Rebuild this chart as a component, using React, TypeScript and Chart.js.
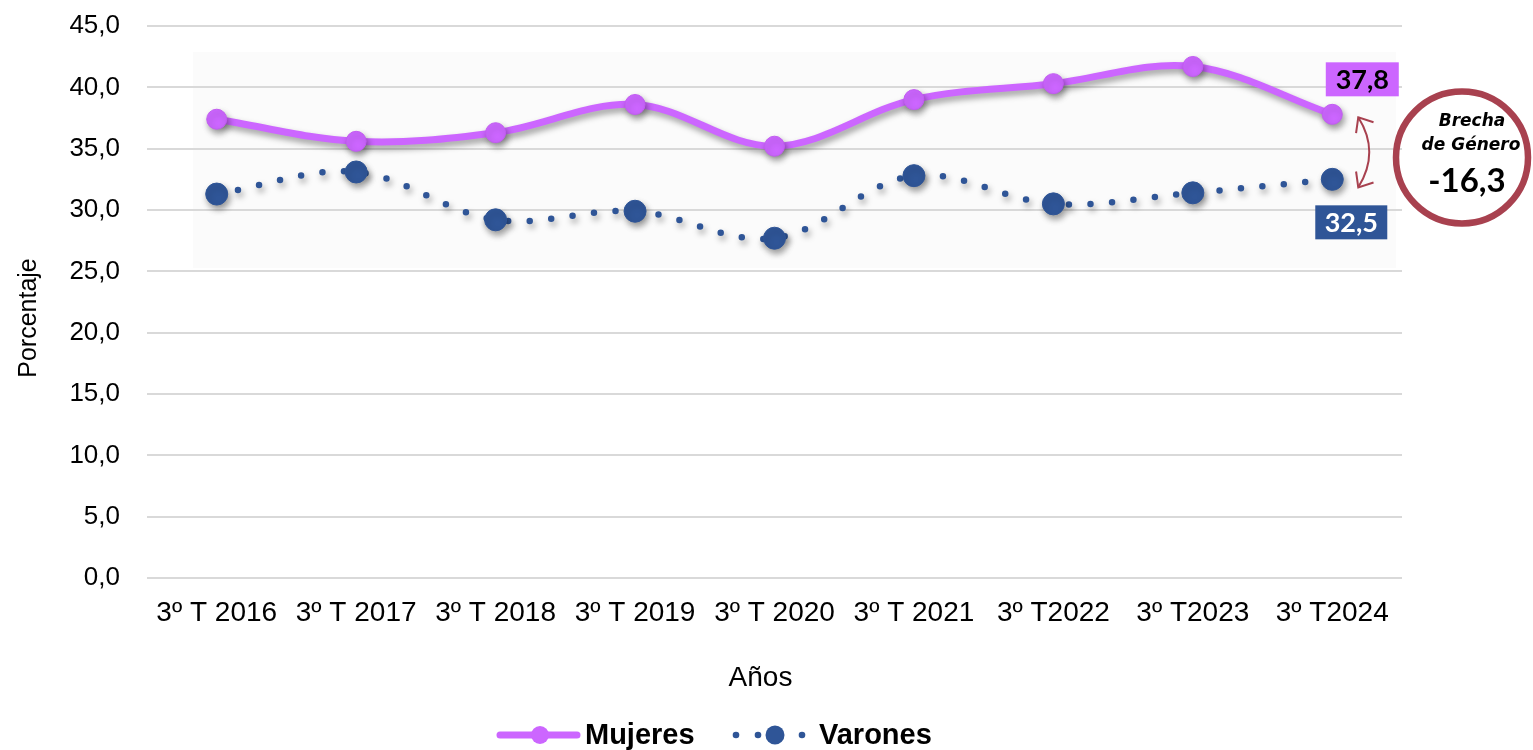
import React, { useEffect, useRef } from "react";
import { Chart, registerables } from "chart.js";

Chart.register(...registerables);

const categories = [
  "3º T 2016",
  "3º T 2017",
  "3º T 2018",
  "3º T 2019",
  "3º T 2020",
  "3º T 2021",
  "3º T2022",
  "3º T2023",
  "3º T2024",
];
const mujeres = [37.4, 35.6, 36.3, 38.6, 35.2, 39.0, 40.3, 41.7, 37.8];
const varones = [31.3, 33.1, 29.2, 29.9, 27.7, 32.8, 30.5, 31.4, 32.5];
const seriesNames = ["Mujeres", "Varones"];
const yTickValues = [0, 5, 10, 15, 20, 25, 30, 35, 40, 45];
const yTickLabels = ["0,0", "5,0", "10,0", "15,0", "20,0", "25,0", "30,0", "35,0", "40,0", "45,0"];
const xAxisTitle = "Años";
const yAxisTitle = "Porcentaje";
const brechaTitle = ["Brecha", "de Género"];
const brechaValue = -16.3;

const PURPLE = "#CC66FF";
const BLUE = "#2F5597";
const MAROON = "#A8414F";
const ARIAL = '"Liberation Sans", Arial, sans-serif';

const fmt = (v: number) => v.toFixed(1).replace(".", ",");

function arrowHead(ctx: CanvasRenderingContext2D, tx: number, ty: number, fx: number, fy: number, len: number) {
  const ang = Math.atan2(ty - fy, tx - fx);
  const a = 0.7;
  ctx.beginPath();
  ctx.moveTo(tx - len * Math.cos(ang - a), ty - len * Math.sin(ang - a));
  ctx.lineTo(tx, ty);
  ctx.lineTo(tx - len * Math.cos(ang + a), ty - len * Math.sin(ang + a));
  ctx.stroke();
}

const decorPlugin = {
  id: "decor",
  beforeDraw(chart: any) {
    const { ctx, chartArea } = chart;
    ctx.save();
    ctx.fillStyle = "#FBFBFB";
    ctx.fillRect(193, 52, chartArea.right - 193 - 6, 216);
    ctx.restore();
  },
  beforeDatasetDraw(chart: any) {
    const ctx = chart.ctx;
    ctx.save();
    ctx.shadowColor = "rgba(0,0,0,0.38)";
    ctx.shadowBlur = 6;
    ctx.shadowOffsetX = 2;
    ctx.shadowOffsetY = 4;
  },
  afterDatasetDraw(chart: any) {
    chart.ctx.restore();
  },
  afterDraw(chart: any) {
    const { ctx, chartArea } = chart;
    const last = categories.length - 1;
    const p0 = chart.getDatasetMeta(0).data[last];
    const p1 = chart.getDatasetMeta(1).data[last];
    ctx.save();

    // Data label boxes
    const drawBox = (cx: number, cy: number, w: number, h: number, bg: string, fg: string, text: string) => {
      ctx.fillStyle = bg;
      ctx.fillRect(cx - w / 2, cy - h / 2, w, h);
      ctx.fillStyle = fg;
      ctx.font = 'bold 27px Lato, "Open Sans", sans-serif';
      ctx.textAlign = "center";
      ctx.textBaseline = "middle";
      ctx.fillText(text, cx, cy + 1);
    };
    drawBox(p0.x + 30, p0.y - 35, 73, 34, PURPLE, "#000000", fmt(mujeres[last]));
    drawBox(p1.x + 19, p1.y + 43, 72, 34, BLUE, "#FFFFFF", fmt(varones[last]));

    // Curved double arrow
    const tx = p0.x + 26;
    const t1 = { x: tx, y: p0.y + 3 };
    const t2 = { x: tx, y: p1.y + 8 };
    const c = { x: tx + 22, y: (t1.y + t2.y) / 2 };
    ctx.strokeStyle = MAROON;
    ctx.lineWidth = 2;
    ctx.beginPath();
    ctx.moveTo(t1.x, t1.y);
    ctx.quadraticCurveTo(c.x, c.y, t2.x, t2.y);
    ctx.stroke();
    arrowHead(ctx, t1.x, t1.y, c.x, c.y, 16);
    arrowHead(ctx, t2.x, t2.y, c.x, c.y, 16);

    // Brecha circle
    ctx.lineWidth = 6.5;
    ctx.strokeStyle = MAROON;
    ctx.beginPath();
    ctx.arc(1462, 157.5, 66, 0, Math.PI * 2);
    ctx.stroke();
    ctx.fillStyle = "#000000";
    ctx.textAlign = "center";
    ctx.textBaseline = "middle";
    ctx.font = 'italic bold 17px "DejaVu Sans", sans-serif';
    ctx.fillText(brechaTitle[0], 1472, 122);
    ctx.fillText(brechaTitle[1], 1471, 146);
    ctx.font = 'bold 33px Lato, "Open Sans", sans-serif';
    ctx.fillText(fmt(brechaValue), 1467, 181);

    // Axis titles
    ctx.fillStyle = "#000000";
    ctx.font = `25px ${ARIAL}`;
    ctx.save();
    ctx.translate(29, 318);
    ctx.rotate(-Math.PI / 2);
    ctx.fillText(yAxisTitle, 0, 0);
    ctx.restore();
    ctx.font = `28px ${ARIAL}`;
    ctx.fillText(xAxisTitle, (chartArea.left + chartArea.right) / 2 - 14, 678);

    // Legend
    const ly = 735;
    ctx.lineCap = "round";
    ctx.strokeStyle = PURPLE;
    ctx.lineWidth = 7;
    ctx.beginPath();
    ctx.moveTo(500, ly);
    ctx.lineTo(577, ly);
    ctx.stroke();
    ctx.fillStyle = PURPLE;
    ctx.beginPath();
    ctx.arc(540, ly, 9, 0, Math.PI * 2);
    ctx.fill();
    ctx.fillStyle = BLUE;
    [736, 758, 802].forEach((x) => {
      ctx.beginPath();
      ctx.arc(x, ly, 3.3, 0, Math.PI * 2);
      ctx.fill();
    });
    ctx.beginPath();
    ctx.arc(775, ly, 9.5, 0, Math.PI * 2);
    ctx.fill();
    ctx.fillStyle = "#000000";
    ctx.textAlign = "left";
    ctx.font = `bold 29px ${ARIAL}`;
    ctx.fillText(seriesNames[0], 585, ly + 1);
    ctx.fillText(seriesNames[1], 819, ly + 1);

    ctx.restore();
  },
};

export default function App() {
  const canvasRef = useRef<HTMLCanvasElement | null>(null);

  useEffect(() => {
    if (!canvasRef.current) return;
    const chart = new Chart(canvasRef.current, {
      type: "line",
      data: {
        labels: categories,
        datasets: [
          {
            label: seriesNames[0],
            data: mujeres,
            borderColor: PURPLE,
            borderWidth: 7,
            tension: 0.35,
            pointRadius: 10,
            pointBackgroundColor: PURPLE,
            pointBorderColor: "#C25CF2",
            pointBorderWidth: 1,
            fill: false,
          },
          {
            label: seriesNames[1],
            data: varones,
            borderColor: BLUE,
            borderWidth: 6.5,
            borderDash: [0, 21.6],
            borderCapStyle: "round",
            tension: 0.35,
            pointRadius: 11,
            pointBackgroundColor: BLUE,
            pointBorderColor: BLUE,
            pointBorderWidth: 1,
            fill: false,
          },
        ],
      },
      options: {
        responsive: false,
        animation: false,
        layout: { autoPadding: false, padding: { top: 0, right: 131, left: 0, bottom: 0 } },
        plugins: {
          legend: { display: false },
          tooltip: { enabled: false },
        },
        scales: {
          x: {
            type: "category",
            offset: true,
            grid: { display: false, drawTicks: false },
            border: { display: false },
            ticks: {
              color: "#000000",
              font: { family: ARIAL, size: 28 },
              padding: 18,
              maxRotation: 0,
              autoSkip: false,
            },
            afterFit: (s: any) => {
              s.height = 172;
            },
          },
          y: {
            min: 0,
            max: 45,
            grid: { color: "#D9D9D9", lineWidth: 2, drawTicks: false },
            border: { display: false },
            afterBuildTicks: (s: any) => {
              s.ticks = yTickValues.map((v) => ({ value: v }));
            },
            ticks: {
              color: "#000000",
              font: { family: ARIAL, size: 26 },
              padding: 27,
              callback: (v: any) => yTickLabels[yTickValues.indexOf(Number(v))] ?? "",
            },
            afterFit: (s: any) => {
              s.width = 147;
              s.paddingTop = 26;
            },
          },
        },
      },
      plugins: [decorPlugin],
    } as any);
    return () => chart.destroy();
  }, []);

  return (
    <div style={{ position: "absolute", left: 0, top: 0, width: 1533, height: 750, background: "#FFFFFF" }}>
      <canvas ref={canvasRef} width={1533} height={750} style={{ display: "block" }} />
    </div>
  );
}
